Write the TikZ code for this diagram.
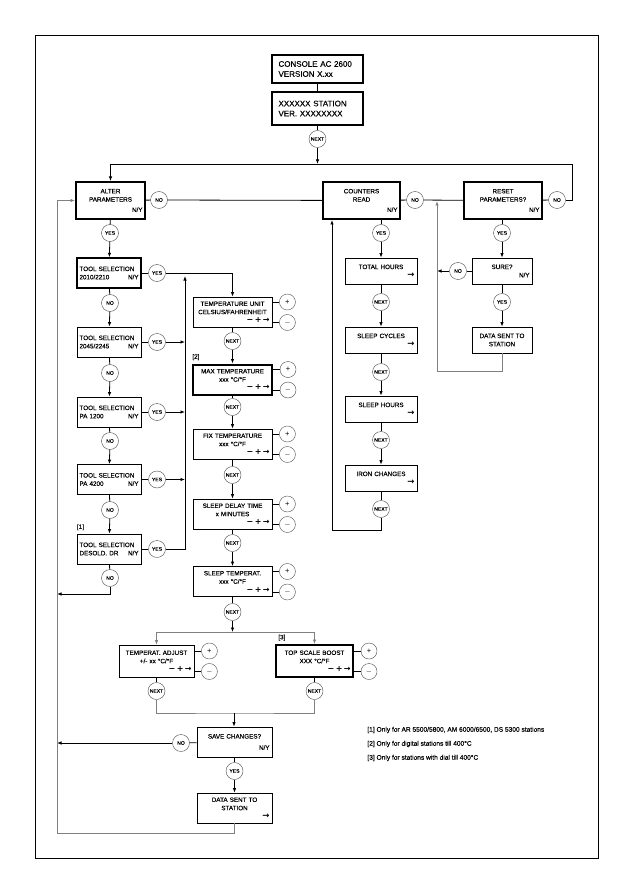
\documentclass[tikz,border=0pt]{standalone}
\usepackage{fontspec}
\setmainfont{Liberation Sans}
\newfontfamily\heavyfont{Liberation Sans}[FakeBold=0.3]
\newfontfamily\symfont{DejaVu Sans}
\usetikzlibrary{arrows.meta,positioning,calc}
\newcommand{\rgt}[1]{\hskip 0pt plus 1fill #1}
\newcommand{\knobs}{{\symfont\bfseries\fontsize{8}{8}\selectfont −\,+\,→}}
\newcommand{\goon}{{\symfont\bfseries\fontsize{8.5}{8}\selectfont →}}

\begin{document}
\begin{tikzpicture}[x=1pt, y=-1pt,
    % box looks
    box/.style={draw, line width=0.8pt, inner xsep=2.5pt, inner ysep=1pt, align=center,
      font=\heavyfont\fontsize{6.3}{8.3}\selectfont},
    heavy/.style={box, line width=2pt},
    sel/.style={box, align=left, text width=59pt, minimum width=64pt, minimum height=30pt},
    temp/.style={box, text width=74pt, minimum width=79pt, minimum height=30pt},
    cnt/.style={box, text width=67pt, minimum width=72pt, minimum height=26pt},
    ring/.style={circle, draw=black!70, line width=0.4pt, fill=white, minimum size=17pt, inner sep=0pt,
      font=\heavyfont\fontsize{5}{5}\selectfont},
    pm/.style={ring, minimum size=16pt, font=\fontsize{7.5}{7.5}\selectfont},
    note/.style={font=\heavyfont\fontsize{6.3}{7}\selectfont, inner sep=0pt},
    arr/.style={-{Latex[length=4.5pt,width=3.5pt]}, line width=0.8pt},
    rail/.style={line width=0.8pt, draw=black!50},
    every path/.style={line width=0.8pt}
]
\useasboundingbox (0,0) rectangle (630,893);
\draw[line width=0.9pt] (35,35) rectangle (598,858);

% header
\node[heavy, align=left, inner xsep=6.5pt, text width=78pt, minimum width=91pt, minimum height=28pt,
  font=\heavyfont\fontsize{8}{10}\selectfont] (console) at (317.5,69) {CONSOLE AC 2600\\VERSION X.xx};
\node[heavy, align=left, inner xsep=6.5pt, text width=78pt, minimum width=91pt, minimum height=33pt,
  font=\heavyfont\fontsize{8}{10}\selectfont] (station) at (317.5,108.5) {XXXXXX STATION\\VER. XXXXXXXX};
\node[ring] (next0) at (317.5,139) {NEXT};
\coordinate (top) at (317.5,164);

% top row
\node[heavy, text width=64pt, minimum width=69pt, minimum height=37pt] (alter) at (110.5,200.5)
  {ALTER\\PARAMETERS\\[2pt]\rgt{N/Y}};
\node[ring] (altno) at (159,200) {NO};
\node[heavy, text width=72pt, minimum width=77pt, minimum height=37pt] (counters) at (361.5,200.5)
  {COUNTERS\\READ\\[2pt]\rgt{N/Y}};
\node[ring] (cntno) at (415,200) {NO};
\node[heavy, text width=73pt, minimum width=78pt, minimum height=37pt] (reset) at (503,200.5)
  {RESET\\PARAMETERS?\\[2pt]\rgt{N/Y}};
\node[ring] (resno) at (557,200) {NO};

% tool selection column
\node[ring] (altyes) at (110,233) {YES};
\node[sel, line width=1.4pt] (tool1) at (109,273) {TOOL SELECTION\\2010/2210\rgt{N/Y}};
\node[ring] (no1) at (110,303) {NO};
\node[sel] (tool2) at (109,342) {TOOL SELECTION\\2045/2245\rgt{N/Y}};
\node[ring] (no2) at (110,373) {NO};
\node[sel] (tool3) at (109,412) {TOOL SELECTION\\PA 1200\rgt{N/Y}};
\node[ring] (no3) at (110,441) {NO};
\node[sel] (tool4) at (109,479.5) {TOOL SELECTION\\PA 4200\rgt{N/Y}};
\node[ring] (no4) at (110,510) {NO};
\node[sel] (tool5) at (109,549) {TOOL SELECTION\\DESOLD. DR\ \ \rgt{N/Y}};
\node[ring] (no5) at (110,578) {NO};
\node[note, anchor=south west] (fn1) at ([yshift=3pt]tool5.north west) {[1]};
\foreach \i in {1,...,5}
  \node[ring] (yes\i) at (157,0 |- tool\i) {YES};

% temperature column
\node[temp] (unit) at (232.5,312) {TEMPERATURE UNIT\\CELSIUS/FAHRENHEIT\\\rgt{\knobs}};
\node[ring] (next1) at (232.5,341) {NEXT};
\node[temp, line width=2pt] (max) at (232.5,379.5) {MAX TEMPERATURE\\xxx °C/°F\\\rgt{\knobs}};
\node[note, anchor=south west] (fn2) at ([yshift=3pt]max.north west) {[2]};
\node[ring] (next2) at (232.5,407) {NEXT};
\node[temp] (fix) at (232.5,444) {FIX TEMPERATURE\\xxx °C/°F\\\rgt{\knobs}};
\node[ring] (next3) at (232.5,475) {NEXT};
\node[temp] (delay) at (232.5,514) {SLEEP DELAY TIME\\x MINUTES\\\rgt{\knobs}};
\node[ring] (next4) at (232.5,543) {NEXT};
\node[temp] (sleept) at (232.5,581.5) {SLEEP TEMPERAT.\\xxx °C/°F\\\rgt{\knobs}};
\node[ring] (next5) at (232.5,612) {NEXT};
\coordinate (split) at (232.5,632);

\node[box, text width=70pt, minimum width=75pt, minimum height=32pt] (adjust) at (156.5,661)
  {TEMPERAT. ADJUST\\+/- xx °C/°F\\\rgt{\knobs}};
\node[box, line width=2pt, text width=72pt, minimum width=77pt, minimum height=32pt] (boost) at (314.5,661)
  {TOP SCALE BOOST\\XXX °C/°F\\\rgt{\knobs}};
\node[note, anchor=south west] (fn3) at ([yshift=3pt,xshift=3pt]boost.north west) {[3]};
\node[ring] (adjnext) at (156.5,691) {NEXT};
\node[ring] (bstnext) at (314.5,691) {NEXT};
\coordinate (merge) at (234,713);

% + / - keys
\foreach \b in {unit,max,fix,delay,sleept,adjust,boost} {
  \node[pm] (\b-p) at ([xshift=15pt,yshift=10pt]\b.east) {+};
  \node[pm] (\b-m) at ([xshift=15pt,yshift=-10.5pt]\b.east) {$-$};
  \draw (\b-p.west -| \b.east) -- (\b-p.west);
  \draw (\b-m.west -| \b.east) -- (\b-m.west);
}

% save
\node[box, text width=70pt, minimum width=75pt, minimum height=30pt] (save) at (234.5,742)
  {SAVE CHANGES?\\[3pt]\rgt{N/Y}};
\node[ring] (saveno) at (181,743) {NO};
\node[ring] (saveyes) at (234.5,771) {YES};
\node[box, text width=70pt, minimum width=75pt, minimum height=30pt] (sent2) at (234.5,808)
  {DATA SENT TO\\STATION\\\rgt{\goon}};

% counters column
\node[ring] (cntyes) at (381,233) {YES};
\node[cnt] (total) at (381,271) {TOTAL HOURS\\\rgt{\goon}};
\node[ring] (cnext1) at (381,302) {NEXT};
\node[cnt] (cycles) at (381,340) {SLEEP CYCLES\\\rgt{\goon}};
\node[ring] (cnext2) at (381,372) {NEXT};
\node[cnt] (hours) at (381,409) {SLEEP HOURS\\\rgt{\goon}};
\node[ring] (cnext3) at (381,440) {NEXT};
\node[cnt] (iron) at (381,478) {IRON CHANGES\\\rgt{\goon}};
\node[ring] (cnext4) at (381,509) {NEXT};
\coordinate (cloop) at (332,530);

% reset column
\node[ring] (resyes) at (502,233) {YES};
\node[box, text width=55pt, minimum width=60pt, minimum height=26pt] (sure) at (502,271) {SURE?\\\rgt{N/Y}};
\node[ring] (sureno) at (458,271) {NO};
\node[ring] (sureyes) at (502,302) {YES};
\node[box, minimum width=60pt, minimum height=26pt] (sent1) at (502,340) {DATA SENT TO\\STATION};
\coordinate (rloop) at (437,371);
\coordinate (rail) at (57,833);

% header links
\draw (console) -- (station);
\draw (station) -- (next0);
\draw[arr] (next0) -- (top);
\draw (reset) -- (resno);
\draw[arr] (resno.east) -| (572,164) -- (top -| alter) -- (alter.north);
\draw (alter) -- (altno) -- (counters);
\draw (counters) -- (cntno) -- (reset);

% tool column
\draw (alter) -- (altyes);
\draw[arr] (altyes) -- (tool1);
\foreach \i/\j in {1/2,2/3,3/4,4/5} {
  \draw (tool\i) -- (no\i);
  \draw[arr] (no\i) -- (tool\j);
}
\foreach \i in {1,...,5}
  \draw (tool\i) -- (yes\i);
\draw[arr] (yes1) -| (unit.north);
\draw[arr] (yes5) -| (185,276);
\foreach \i in {2,3,4}
  \draw[arr] (yes\i) -- (185,0 |- yes\i);
\draw (tool5) -- (no5);
\draw[arr] (no5) |- (57,594);

% temperature column
\draw (unit) -- (next1); \draw[arr] (next1) -- (max);
\draw (max) -- (next2); \draw[arr] (next2) -- (fix);
\draw (fix) -- (next3); \draw[arr] (next3) -- (delay);
\draw (delay) -- (next4); \draw[arr] (next4) -- (sleept);
\draw (sleept) -- (next5); \draw[arr] (next5) -- (split);
\draw[arr, rail] (split) -| (adjust.north);
\draw[arr, rail] (split) -| (boost.north);
\draw (adjust) -- (adjnext);
\draw (boost) -- (bstnext);
\draw[rail] (adjnext) |- (merge) -| (bstnext);
\draw[arr] (merge) -- (save.north -| merge);

% save
\draw (save) -- (saveno);
\draw[arr] (saveno) -- (57,0 |- saveno);
\draw (save) -- (saveyes);
\draw[arr] (saveyes) -- (sent2);
\draw[arr, rail] (sent2.south) |- (rail) |- (alter.west);

% counters column
\draw (counters.south -| cntyes) -- (cntyes);
\draw[arr] (cntyes) -- (total);
\draw (total) -- (cnext1); \draw[arr] (cnext1) -- (cycles);
\draw (cycles) -- (cnext2); \draw[arr] (cnext2) -- (hours);
\draw (hours) -- (cnext3); \draw[arr] (cnext3) -- (iron);
\draw (iron) -- (cnext4);
\draw[arr] (cnext4) |- (cloop) -- (counters.south -| cloop);

% reset column
\draw (reset.south -| resyes) -- (resyes);
\draw[arr] (resyes) -- (sure);
\draw (sure) -- (sureno);
\draw[arr] (sureno) -- (437,0 |- sureno);
\draw (sure) -- (sureyes);
\draw[arr] (sureyes) -- (sent1);
\draw[arr, rail] (sent1.south) |- (rloop) -- (437,201);

% footnotes
\node[note, anchor=west, font=\heavyfont\fontsize{6.6}{7}\selectfont] (n1) at (367,730) {[1] Only for AR 5500/5800, AM 6000/6500, DS 5300 stations};
\node[note, anchor=west, font=\heavyfont\fontsize{6.6}{7}\selectfont] (n2) at (367,744) {[2] Only for digital stations till 400°C};
\node[note, anchor=west, font=\heavyfont\fontsize{6.6}{7}\selectfont] (n3) at (367,758) {[3] Only for stations with dial till 400°C};
\end{tikzpicture}
\end{document}
